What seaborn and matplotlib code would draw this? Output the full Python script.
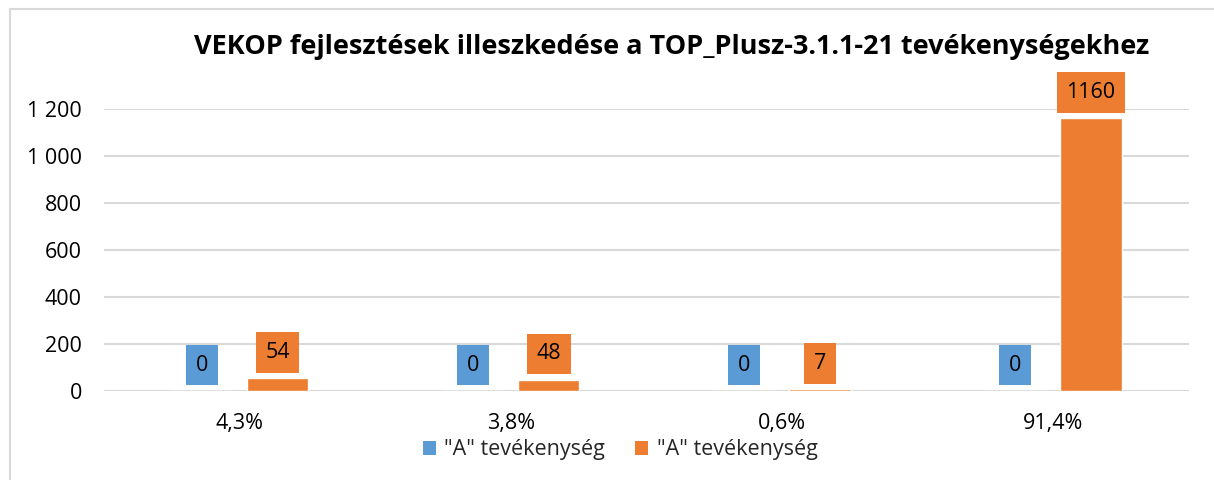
import matplotlib
matplotlib.use("Agg")
import matplotlib.pyplot as plt
from matplotlib.patches import Rectangle, Patch
from matplotlib.ticker import FuncFormatter
import pandas as pd
import seaborn as sns

# data
categories = ["4,3%", "3,8%", "0,6%", "91,4%"]
series_keys = ["A_blue", "A_orange"]
series_label = "\"A\" tevékenység"
blue_values = [0, 0, 0, 0]
orange_values = [54, 48, 7, 1160]
colors = ["#5B9BD5", "#ED7D31"]
title = "VEKOP fejlesztések illeszkedése a TOP_Plusz-3.1.1-21 tevékenységekhez"

df = pd.DataFrame({
    "cat": categories * 2,
    "series": [series_keys[0]] * 4 + [series_keys[1]] * 4,
    "value": blue_values + orange_values,
})

sns.set_theme(style="white")
plt.rcParams["font.family"] = ["Open Sans", "DejaVu Sans"]

fig = plt.figure(figsize=(12.14, 4.8), dpi=100)
ax = fig.add_axes([0.0857, 0.1854, 0.8933, 0.5876])

sns.barplot(data=df, x="cat", y="value", hue="series", order=categories,
            hue_order=series_keys, palette=colors, width=0.56, gap=0.19,
            saturation=1, legend=False, ax=ax)

ax.set_xlim(-0.5, 3.5)
ax.set_ylim(0, 1200)
ax.set_yticks(range(0, 1201, 200))
ax.yaxis.set_major_formatter(FuncFormatter(lambda v, p: f"{v:,.0f}".replace(",", " ")))
ax.grid(axis="y", color="#D9D9D9", lw=1.5)
ax.set_axisbelow(True)
sns.despine(ax=ax, left=True, bottom=True)
ax.tick_params(axis="both", length=0, labelsize=15.5, colors="#000000")
ax.tick_params(axis="y", pad=16)
ax.tick_params(axis="x", pad=16)
ax.set_xlabel("")
ax.set_ylabel("")

# value labels in filled boxes above each bar
for cont, col in zip(ax.containers, colors):
    for bar in cont:
        h = bar.get_height()
        ax.annotate(f"{h:.0f}", (bar.get_x() + bar.get_width() / 2, h),
                    xytext=(0, 26), textcoords="offset pixels",
                    ha="center", va="center", fontsize=15.5, color="#000000",
                    bbox=dict(boxstyle="square,pad=0.45", fc=col, ec="none"))

fig.text(0.553, 0.903, title, ha="center", va="center",
         fontsize=19.5, fontweight="bold", color="#000000")

handles = [Patch(facecolor=c, edgecolor="none") for c in colors]
fig.legend(handles, [series_label, series_label], loc="center",
           bbox_to_anchor=(0.511, 0.063), ncol=2, frameon=False,
           fontsize=15.5, handlelength=0.6, handleheight=0.6,
           handletextpad=0.4, columnspacing=1.4)

# light chart-area border (left and top edges visible)
fig.patches.append(Rectangle((10 / 1214, -0.1), 2, (480 - 9) / 480 + 0.1,
                             transform=fig.transFigure, fill=False,
                             ec="#D9D9D9", lw=1.5))

fig.savefig("out.png", dpi=100)
